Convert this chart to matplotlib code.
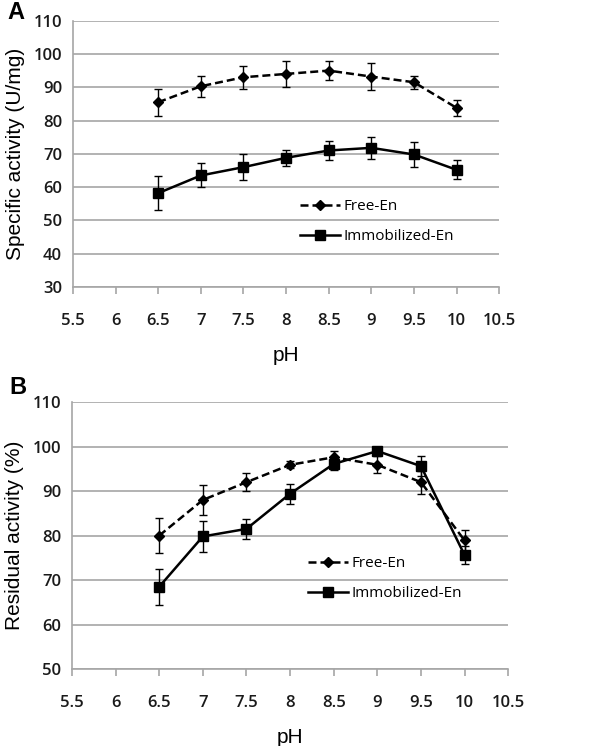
import matplotlib
matplotlib.use("Agg")
import matplotlib.pyplot as plt
from matplotlib.lines import Line2D
import numpy as np

ph = [6.5, 7, 7.5, 8, 8.5, 9, 9.5, 10]

# panel A: specific activity (U/mg)
free_a = [85.5, 90.3, 93.0, 94.0, 95.0, 93.2, 91.5, 83.8]
free_a_err = [4.0, 3.1, 3.4, 4.0, 2.8, 4.0, 2.0, 2.5]
immo_a = [58.2, 63.5, 66.0, 68.8, 71.0, 71.8, 69.8, 65.2]
immo_a_err = [5.0, 3.6, 3.9, 2.4, 2.9, 3.4, 3.7, 2.8]

# panel B: residual activity (%)
free_b = [80.0, 88.0, 92.0, 95.9, 97.6, 95.9, 92.0, 78.9]
free_b_err = [4.0, 3.4, 2.0, 0.8, 1.5, 1.9, 2.6, 2.4]
immo_b = [68.5, 79.8, 81.5, 89.4, 96.1, 99.0, 95.6, 75.6]
immo_b_err = [4.0, 3.4, 2.3, 2.2, 1.3, 1.0, 2.2, 2.0]

xticks = [5.5, 6, 6.5, 7, 7.5, 8, 8.5, 9, 9.5, 10, 10.5]
xtick_labels = ["5.5", "6", "6.5", "7", "7.5", "8", "8.5", "9", "9.5", "10", "10.5"]

grid_col = "#a6a6a6"
dash = (0, (3.2, 1.6))

fig = plt.figure(figsize=(6, 7.46), dpi=100)
ax1 = fig.add_axes([0.1217, 0.6153, 0.7103, 0.357])
ax2 = fig.add_axes([0.12, 0.1032, 0.727, 0.3578])


def draw(ax, fy, fe, iy, ie, ylim, ylabel, leg_pos):
    ax.errorbar(ph, fy, yerr=fe, color="black", ls=dash, lw=1.8,
                marker="D", ms=5, capsize=3, elinewidth=1, capthick=1, zorder=3)
    ax.errorbar(ph, iy, yerr=ie, color="black", ls="-", lw=1.8,
                marker="s", ms=7.5, capsize=3, elinewidth=1, capthick=1, zorder=3)
    ax.set_xlim(5.5, 10.5)
    ax.set_ylim(*ylim)
    ax.set_yticks(np.arange(ylim[0], ylim[1] + 1, 10))
    ax.set_xticks(xticks)
    ax.set_xticklabels(xtick_labels)
    ax.grid(axis="y", color=grid_col, lw=1.2)
    ax.set_axisbelow(True)
    for s in ["top", "right"]:
        ax.spines[s].set_visible(False)
    for s in ["left", "bottom"]:
        ax.spines[s].set_color(grid_col)
        ax.spines[s].set_linewidth(1.2)
    ax.tick_params(axis="y", length=0, pad=8, labelsize=12)
    ax.tick_params(axis="x", length=5, color=grid_col, width=1.2, pad=14,
                   labelsize=12)
    for t in ax.get_xticklabels() + ax.get_yticklabels():
        t.set_fontfamily("Open Sans")
        t.set_fontweight("semibold")
        t.set_color("#1a1a1a")
    ax.set_xlabel("pH", fontsize=15, family="Liberation Sans", labelpad=12)
    ax.set_ylabel(ylabel, fontsize=15, family="Liberation Sans", labelpad=6)
    handles = [
        Line2D([], [], color="black", ls=dash, lw=1.8, marker="D", ms=5),
        Line2D([], [], color="black", ls="-", lw=1.8, marker="s", ms=7.5),
    ]
    ax.legend(handles, ["Free-En", "Immobilized-En"], loc="upper left",
              bbox_to_anchor=leg_pos, frameon=False, borderpad=0,
              borderaxespad=0, handlelength=2.6, labelspacing=1.0,
              handletextpad=0.25, prop={"family": "Open Sans", "size": 11})


draw(ax1, free_a, free_a_err, immo_a, immo_a_err, (30, 110),
     "Specific activity (U/mg)", (0.533, 0.33))
draw(ax2, free_b, free_b_err, immo_b, immo_b_err, (50, 110),
     "Residual activity (%)", (0.541, 0.423))

fig.text(0.012, 0.975, "A", fontsize=17, fontweight="bold", family="Liberation Sans")
fig.text(0.015, 0.472, "B", fontsize=17, fontweight="bold", family="Liberation Sans")

fig.savefig("out.png", dpi=100)
